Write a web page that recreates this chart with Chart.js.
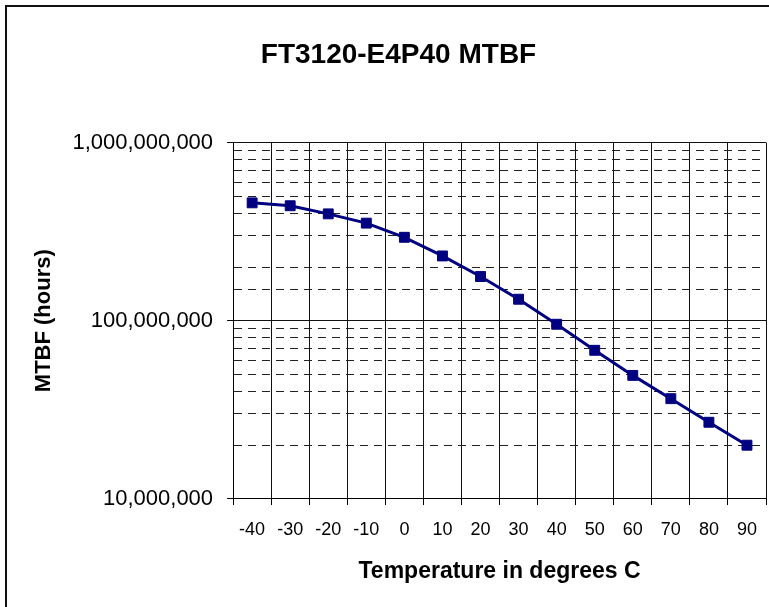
<!DOCTYPE html>
<html>
<head>
<meta charset="utf-8">
<script src="https://cdn.jsdelivr.net/npm/chart.js@4/dist/chart.umd.min.js"></script>
<style>
  html, body { margin: 0; padding: 0; background: #fff; overflow: hidden; }
  #frame {
    position: absolute; left: 5px; top: 5px; width: 900px; height: 800px;
    border-left: 2px solid #111; border-top: 2px solid #111;
  }
  #wrap { position: absolute; left: 0; top: 0; width: 769px; height: 607px; }
</style>
</head>
<body>
<div id="frame"></div>
<div id="wrap"><canvas id="mtbfChart"></canvas></div>
<script>
// 温度 (°C) と MTBF (時間)
const temperatures = ['-40', '-30', '-20', '-10', '0', '10', '20', '30', '40', '50', '60', '70', '80', '90'];
const mtbfHours = [459e6, 442e6, 398e6, 353e6, 294e6, 231e6, 177e6, 132e6, 95.5e6, 68.2e6, 49.3e6, 36.5e6, 26.9e6, 20.0e6];
const yMin = 1e7;
const yMax = 1e9;

const FONT = '"Liberation Sans", Arial, sans-serif';

function isDecade(v) {
    const l = Math.log10(v);
    return Math.abs(l - Math.round(l)) < 1e-9;
}

const ctx = document.getElementById('mtbfChart').getContext('2d');

new Chart(ctx, {
    type: 'line',
    data: {
        labels: temperatures,
        datasets: [{
            label: 'MTBF',
            data: mtbfHours,
            borderColor: '#000080',
            backgroundColor: '#000080',
            borderWidth: 3,
            pointStyle: 'rect',
            pointRadius: 7,
            pointBorderWidth: 1,
            pointBackgroundColor: '#000080',
            pointBorderColor: '#000080',
            tension: 0,
            fill: false
        }]
    },
    options: {
        responsive: true,
        maintainAspectRatio: false,
        animation: false,
        layout: {
            autoPadding: false,
            padding: { left: 31, right: 3, top: 0, bottom: 22 }
        },
        plugins: {
            legend: { display: false },
            tooltip: { enabled: false },
            title: {
                display: true,
                text: 'FT3120-E4P40 MTBF',
                color: '#000',
                font: { family: FONT, size: 28, weight: 'bold' },
                padding: { top: 38, bottom: 71 }
            }
        },
        scales: {
            x: {
                type: 'category',
                offset: true,
                grid: {
                    offset: true,
                    color: '#111',
                    lineWidth: 1,
                    // 目盛り線は先頭 6px だけ描く
                    tickLength: 16,
                    tickBorderDash: [6, 40],
                    tickColor: '#000'
                },
                border: { color: '#000', width: 1 },
                ticks: {
                    color: '#000',
                    font: { family: FONT, size: 18 },
                    padding: 4,
                    maxRotation: 0,
                    autoSkip: false
                },
                title: {
                    display: true,
                    text: 'Temperature in degrees C',
                    color: '#000',
                    font: { family: FONT, size: 23, weight: 'bold' },
                    padding: { top: 13, bottom: 0 }
                }
            },
            y: {
                type: 'logarithmic',
                min: yMin,
                max: yMax,
                grid: {
                    color: c => isDecade(c.tick.value) ? '#111' : '#222',
                    lineWidth: 1,
                    tickLength: 6,
                    tickColor: c => isDecade(c.tick.value) ? '#000' : 'rgba(0,0,0,0)'
                },
                border: {
                    color: '#000',
                    width: 1,
                    dash: c => (c.tick && !isDecade(c.tick.value)) ? [8, 6] : []
                },
                ticks: {
                    color: '#000',
                    font: { family: FONT, size: 22 },
                    padding: 14,
                    autoSkip: false,
                    callback: v => isDecade(v) ? Number(v).toLocaleString('en-US') : ''
                },
                title: {
                    display: true,
                    text: 'MTBF (hours)',
                    color: '#000',
                    font: { family: FONT, size: 22, weight: 'bold' },
                    padding: { top: 0, bottom: 1 }
                }
            }
        }
    }
});
</script>
</body>
</html>
